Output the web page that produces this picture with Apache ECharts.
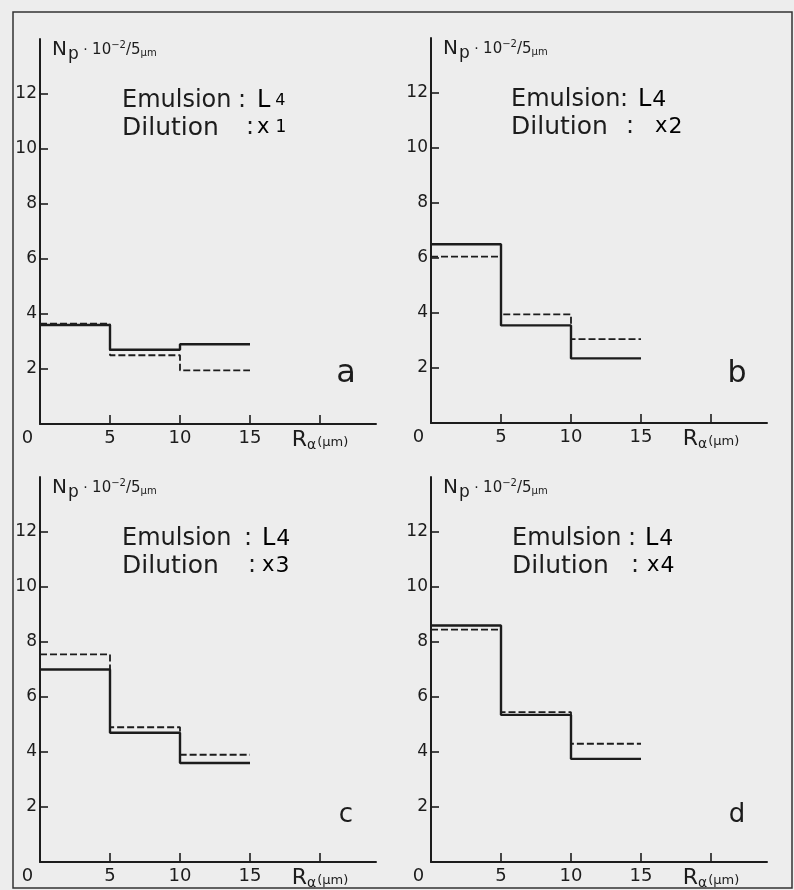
<!DOCTYPE html>
<html>
<head>
<meta charset="utf-8">
<style>
  html, body { margin: 0; padding: 0; background: #ededed; }
  #chart { width: 794px; height: 890px; }
</style>
<script src="https://cdn.jsdelivr.net/npm/echarts@6.0.0/dist/echarts.min.js"></script>
</head>
<body>
<div id="chart"></div>
<script>
// Bin edges of the range histogram (μm)
const binEdges = [0, 5, 10, 15];

// Proton counts per 5 μm bin (units of 10^2), solid and dashed histograms
const solidA  = [3.6, 2.7, 2.9];
const dashedA = [3.65, 2.5, 1.95];
const solidB  = [6.5, 3.55, 2.35];
const dashedB = [6.05, 3.95, 3.05];
const solidC  = [7.0, 4.7, 3.6];
const dashedC = [7.55, 4.9, 3.9];
const solidD  = [8.6, 5.35, 3.75];
const dashedD = [8.45, 5.45, 4.3];

const panelLetters = ['a', 'b', 'c', 'd'];
const emulsion = 'L4';
const dilutions = ['1', '2', '3', '4'];

const yTickValues = [2, 4, 6, 8, 10, 12];
const xTickValues = [5, 10, 15, 20];
const xLabelValues = [0, 5, 10, 15, 20];

const FONT = '"DejaVu Sans", "Liberation Sans", sans-serif';
const INK = '#1c1c1c';

// Plot rectangles and annotation placement for the four panels
const panels = [
  { left: 40,  top: 39,  emLeft: 82, colon1: 242, val1: 257, colon2: 250, val2: 257, small: true,  letterSize: 32 },
  { left: 431, top: 38,  emLeft: 80, colon1: 624, val1: 638, colon2: 630, val2: 655, small: false, letterSize: 30 },
  { left: 40,  top: 477, emLeft: 82, colon1: 248, val1: 262, colon2: 252, val2: 262, small: false, letterSize: 26 },
  { left: 431, top: 477, emLeft: 81, colon1: 632, val1: 645, colon2: 635, val2: 647, small: false, letterSize: 26 }
];
const PW = 336, PH = 385;

const solids = [solidA, solidB, solidC, solidD];
const dashes = [dashedA, dashedB, dashedC, dashedD];

function stepPoints(vals) {
  const pts = vals.map((v, i) => [binEdges[i], v]);
  pts.push([binEdges[vals.length], vals[vals.length - 1]]);
  return pts;
}

const grid = [], xAxis = [], yAxis = [], series = [], graphic = [];

panels.forEach((p, i) => {
  grid.push({ left: p.left, top: p.top, width: PW, height: PH, containLabel: false, outerBoundsMode: 'none' });

  xAxis.push({
    type: 'value', gridIndex: i, min: 0, max: 24, interval: 5,
    splitLine: { show: false },
    axisLine: { lineStyle: { color: INK, width: 2 } },
    axisTick: { inside: true, length: 9, customValues: xTickValues, lineStyle: { color: INK, width: 1.6 } },
    axisLabel: {
      customValues: xLabelValues, margin: 5, color: INK, fontFamily: FONT, fontSize: 18,
      formatter: v => v === 0 ? '{z|0}' : (v === 20 ? '{R|R}{s|α}{u|(μm)}' : String(v)),
      rich: {
        z: { fontSize: 18, fontFamily: FONT, color: INK, padding: [0, 25, 0, 0] },
        R: { fontSize: 22, fontFamily: FONT, color: INK },
        s: { fontSize: 14, fontFamily: FONT, color: INK, padding: [9, 0, 0, 0] },
        u: { fontSize: 13, fontFamily: FONT, color: INK, padding: [4, 0, 0, 1] }
      }
    }
  });

  yAxis.push({
    type: 'value', gridIndex: i, min: 0, max: 14, interval: 2,
    splitLine: { show: false },
    axisLine: { lineStyle: { color: INK, width: 2 } },
    axisTick: { inside: true, length: 8, customValues: yTickValues, lineStyle: { color: INK, width: 1.6 } },
    axisLabel: { customValues: yTickValues, margin: 3, color: INK, fontFamily: FONT, fontSize: 17 },
    name: '{N|N}{p|p}{d| · }{t|10}{e|−2}{t|/5}{u|μm}',
    nameLocation: 'end', nameGap: 0,
    nameTextStyle: {
      align: 'left', verticalAlign: 'top', padding: [0, 0, 0, 12],
      rich: {
        N: { fontSize: 20, fontFamily: FONT, color: INK, lineHeight: 22 },
        p: { fontSize: 17, fontFamily: FONT, color: INK, padding: [9, 0, 0, 1], lineHeight: 17 },
        d: { fontSize: 14, fontFamily: FONT, color: INK, lineHeight: 16 },
        t: { fontSize: 15, fontFamily: FONT, color: INK, lineHeight: 16 },
        e: { fontSize: 10, fontFamily: FONT, color: INK, lineHeight: 11, padding: [0, 0, 9, 0] },
        u: { fontSize: 10, fontFamily: FONT, color: INK, padding: [6, 0, 0, 0], lineHeight: 11 }
      }
    }
  });

  series.push({
    type: 'line', xAxisIndex: i, yAxisIndex: i, step: 'end', showSymbol: false, silent: true,
    data: stepPoints(solids[i]),
    lineStyle: { color: INK, width: 2.4 }, z: 3
  });
  series.push({
    type: 'line', xAxisIndex: i, yAxisIndex: i, step: 'end', showSymbol: false, silent: true,
    data: stepPoints(dashes[i]),
    lineStyle: { color: INK, width: 1.8, type: [7, 3] }, z: 2
  });

  // Annotation block: emulsion type and dilution factor
  const row1 = p.top + 62, row2 = p.top + 89;
  const plainText = (text, x, y, size) => ({
    type: 'text', x, y, silent: true,
    style: { text, font: size + 'px ' + FONT, fill: INK, verticalAlign: 'middle', align: 'left' }
  });
  graphic.push(plainText('Emulsion', p.left + p.emLeft, row1, 24));
  graphic.push(plainText('Dilution', p.left + p.emLeft, row2, 25));
  graphic.push(plainText(':', p.colon1 - 4, row1, 24));
  graphic.push(plainText(':', p.colon2 - 4, row2, 24));
  graphic.push({
    type: 'text', x: p.val1, y: row1, silent: true,
    style: {
      text: '{a|' + emulsion[0] + '}{b|' + emulsion.slice(1) + '}',
      verticalAlign: 'middle', align: 'left',
      rich: {
        a: { fontSize: 24, fontFamily: FONT, color: INK },
        b: { fontSize: p.small ? 16 : 22, fontFamily: FONT, color: INK, padding: [0, 0, 0, p.small ? 5 : 1] }
      }
    }
  });
  graphic.push({
    type: 'text', x: p.val2, y: row2, silent: true,
    style: {
      text: '{a|x}{b|' + dilutions[i] + '}',
      verticalAlign: 'middle', align: 'left',
      rich: {
        a: { fontSize: 21, fontFamily: FONT, color: INK },
        b: { fontSize: p.small ? 17 : 22, fontFamily: FONT, color: INK, padding: [0, 0, 0, p.small ? 6 : 1] }
      }
    }
  });

  // Panel letter
  graphic.push({
    type: 'text', x: p.left + 306, y: p.top + PH - 34, silent: true,
    style: { text: panelLetters[i], font: p.letterSize + 'px ' + FONT, fill: INK, align: 'center', verticalAlign: 'bottom' }
  });
});

// Outer frame of the figure
graphic.push({
  type: 'rect', silent: true, z: -1,
  shape: { x: 13, y: 12, width: 779, height: 876 },
  style: { fill: 'none', stroke: '#333', lineWidth: 1.5 }
});

const chart = echarts.init(document.getElementById('chart'), null, { renderer: 'canvas' });
chart.setOption({
  backgroundColor: '#ededed',
  animation: false,
  grid, xAxis, yAxis, series, graphic
});
</script>
</body>
</html>
